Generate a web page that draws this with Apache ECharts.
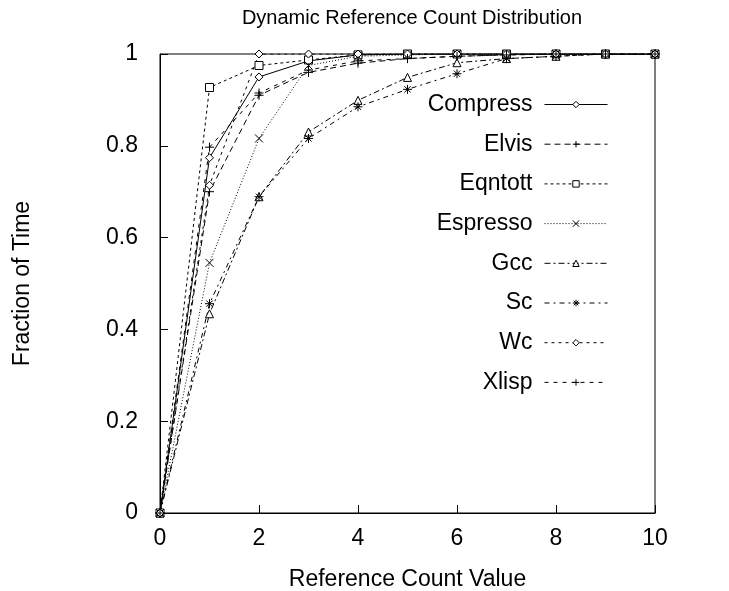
<!DOCTYPE html>
<html>
<head>
<meta charset="utf-8">
<script src="https://cdn.jsdelivr.net/npm/echarts@6/dist/echarts.min.js"></script>
<style>
  html, body { margin: 0; padding: 0; background: #fff; }
  #chart { width: 729px; height: 591px; }
</style>
</head>
<body>
<div id="chart"></div>
<script>
// x positions (reference count value)
const xValues = [0, 1, 2, 3, 4, 5, 6, 7, 8, 9, 10]
const names = ['Compress', 'Elvis', 'Eqntott', 'Espresso', 'Gcc', 'Sc', 'Wc', 'Xlisp']

// fraction of time
const compress = [0, 0.774, 0.95, 0.985, 0.998, 1, 1, 1, 1, 1, 1]
const elvis    = [0, 0.70, 0.91, 0.96, 0.98, 0.99, 0.995, 0.998, 1, 1, 1]
const eqntott  = [0, 0.927, 0.975, 0.987, 0.998, 1, 1, 1, 1, 1, 1]
const espresso = [0, 0.545, 0.816, 0.975, 0.995, 0.998, 1, 1, 1, 1, 1]
const gcc      = [0, 0.434, 0.689, 0.83, 0.899, 0.949, 0.981, 0.99, 0.995, 1, 1]
const sc       = [0, 0.456, 0.689, 0.816, 0.885, 0.923, 0.957, 0.99, 0.995, 1, 1]
const wc       = [0, 0.714, 1, 1, 1, 1, 1, 1, 1, 1, 1]
const xlisp    = [0, 0.797, 0.915, 0.965, 0.985, 0.99, 0.995, 0.998, 1, 1, 1]

const yTicks = [0, 0.2, 0.4, 0.6, 0.8, 1]

const FONT = 'Liberation Sans'
const PLUS = 'path://M0,5L10,5M5,0L5,10'
const CROSS = 'path://M0,0L10,10M0,10L10,0'
const STAR = 'path://M0,5L10,5M5,0L5,10M1.5,1.5L8.5,8.5M1.5,8.5L8.5,1.5'

// per-series look: line dash + marker
const looks = {
  Compress: { dash: 'solid', symbol: 'diamond', size: 8 },
  Elvis: { dash: [6, 4], symbol: PLUS, size: 9 },
  Eqntott: { dash: [3, 3], symbol: 'rect', size: 8 },
  Espresso: { dash: [1, 2], symbol: CROSS, size: 8 },
  Gcc: { dash: [6, 3, 2, 3], symbol: 'triangle', size: 8 },
  Sc: { dash: [5, 4, 2, 4], symbol: STAR, size: 9 },
  Wc: { dash: [3, 4], symbol: 'diamond', size: 8 },
  Xlisp: { dash: [4, 5], symbol: PLUS, size: 9 }
}
const allData = [compress, elvis, eqntott, espresso, gcc, sc, wc, xlisp]

const series = names.map((n, i) => ({
  name: n,
  type: 'line',
  data: xValues.map((x, j) => [x, allData[i][j]]),
  symbol: looks[n].symbol,
  symbolSize: looks[n].size,
  showAllSymbol: true,
  lineStyle: { color: '#000', width: 1, type: looks[n].dash },
  itemStyle: { color: '#fff', borderColor: '#000', borderWidth: 1 },
  emphasis: { disabled: true },
  animation: false
}))

// one legend per row, right-anchored so the samples line up
const legends = names.map((n, i) => ({
  data: [n],
  right: 121,
  top: 93 + i * 39.7,
  padding: 0,
  align: 'right',
  itemWidth: 63,
  itemHeight: 8,
  selectedMode: false,
  lineStyle: { width: 1 },
  itemStyle: { borderWidth: 1 },
  textStyle: { fontFamily: FONT, fontSize: 23, color: '#000', padding: [0, 7, 0, 0] }
}))

const myChart = echarts.init(document.getElementById('chart'))
const option = {
  backgroundColor: '#fff',
  animation: false,
  title: {
    text: 'Dynamic Reference Count Distribution',
    left: 407,
    textAlign: 'center',
    top: 3,
    textStyle: { fontFamily: FONT, fontSize: 20, fontWeight: 'normal', color: '#000' }
  },
  legend: legends,
  grid: {
    left: 160, right: 74, top: 54, bottom: 78,
    outerBoundsMode: 'none',
    containLabel: false,
    show: true, borderColor: '#000', borderWidth: 1
  },
  xAxis: {
    type: 'value',
    min: 0, max: 10, interval: 2,
    name: 'Reference Count Value',
    nameLocation: 'middle',
    nameGap: 55,
    nameTextStyle: { fontFamily: FONT, fontSize: 23, color: '#000' },
    axisLine: { lineStyle: { color: '#000' } },
    axisTick: { inside: true, length: 8, lineStyle: { color: '#000' } },
    axisLabel: { fontFamily: FONT, fontSize: 23, color: '#000', margin: 14 },
    splitLine: { show: false }
  },
  yAxis: {
    type: 'value',
    min: 0, max: 1, interval: 0.2,
    name: 'Fraction of Time',
    nameLocation: 'middle',
    nameGap: 126,
    nameTextStyle: { fontFamily: FONT, fontSize: 23, color: '#000' },
    axisLine: { lineStyle: { color: '#000' } },
    axisTick: { inside: true, length: 8, lineStyle: { color: '#000' } },
    axisLabel: {
      fontFamily: FONT, fontSize: 23, color: '#000', margin: 22,
      formatter: v => yTicks.includes(Math.round(v * 10) / 10) ? String(Math.round(v * 10) / 10) : ''
    },
    splitLine: { show: false }
  },
  series: series
}
myChart.setOption(option, true)
</script>
</body>
</html>
